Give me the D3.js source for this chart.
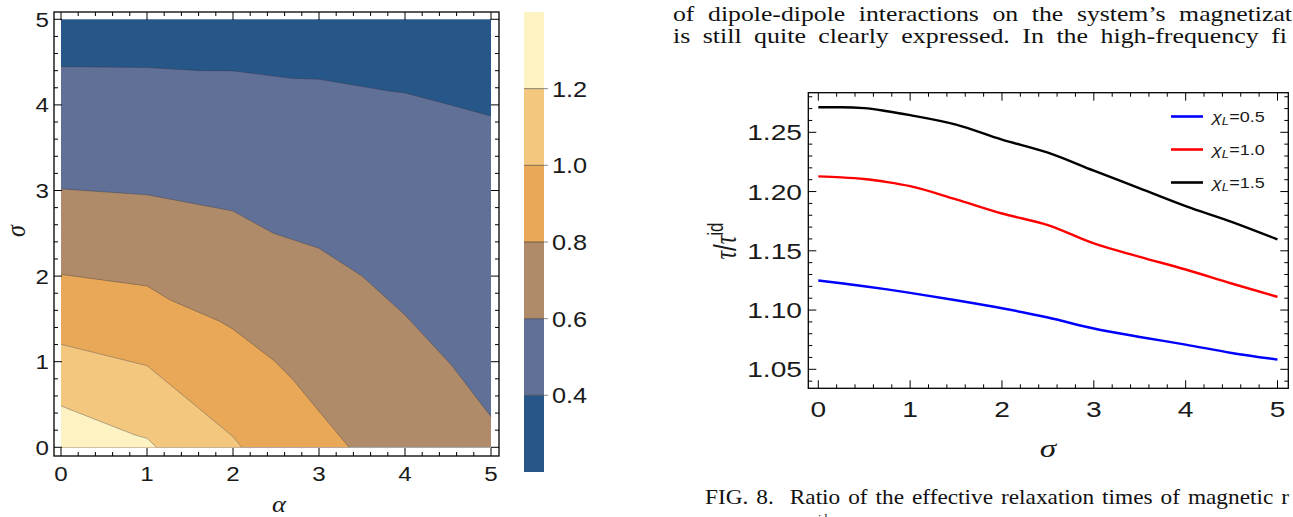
<!DOCTYPE html>
<html><head><meta charset="utf-8">
<script src="https://cdn.jsdelivr.net/npm/d3@7"></script>
<style>body{margin:0;background:#fff}svg{display:block}</style>
</head><body><svg id="c" width="1293" height="517"></svg>
<script>
// ---------- data ----------
const levels = [0.4, 0.6, 0.8, 1.0, 1.2];
const levelColors = ["#275689", "#617096", "#AF8B69", "#E9A857", "#F4C77F", "#FDF2C1"];
// contour boundaries [alpha, sigma] (left edge -> bottom/right edge)
const contour04 = [[0,4.447],[1,4.436],[1.62,4.40],[2,4.397],[2.68,4.31],[3,4.30],[3.83,4.16],[4,4.14],[4.56,3.99],[5,3.87]];
const contour06 = [[0,3.018],[1,2.95],[2,2.76],[2.47,2.50],[3,2.325],[3.5,2.0],[4,1.546],[4.54,0.96],[5,0.358]];
const contour08 = [[0,2.02],[1,1.885],[1.27,1.72],[1.85,1.47],[2,1.38],[2.48,1.01],[2.7,0.787],[3,0.42],[3.35,0]];
const contour10 = [[0,1.203],[1,0.954],[2,0.125],[2.1,0]];
const contour12 = [[0,0.483],[0.86,0.144],[1,0.105],[1.11,0]];
const contours = [contour04, contour06, contour08, contour10, contour12];
const alphaTicks = [0, 1, 2, 3, 4, 5];
const sigmaTicks = [0, 1, 2, 3, 4, 5];
const colorbarTicks = [0.4, 0.6, 0.8, 1.0, 1.2];

const sigmaVals = [0, 0.25, 0.5, 0.75, 1, 1.5, 2, 2.5, 3, 3.5, 4, 4.5, 5];
const tauChi05 = [1.1249, 1.1226, 1.1201, 1.1174, 1.1145, 1.1083, 1.1015, 1.0937, 1.0844, 1.0773, 1.0708, 1.0638, 1.0582];
const tauChi10 = [1.2128, 1.2120, 1.2106, 1.2080, 1.2046, 1.1934, 1.1815, 1.1717, 1.1562, 1.1449, 1.1342, 1.1224, 1.1111];
const tauChi15 = [1.2711, 1.2711, 1.2704, 1.2678, 1.2645, 1.2565, 1.2438, 1.2328, 1.2176, 1.2027, 1.1877, 1.1745, 1.1596];
const seriesLabels = ["0.5", "1.0", "1.5"];
const seriesColors = ["#0000ff", "#ff0000", "#000000"];
const rightYTicks = [1.05, 1.10, 1.15, 1.20, 1.25];
const rightXTicks = [0, 1, 2, 3, 4, 5];

const textLine1 = "of dipole-dipole interactions on the system’s magnetizat";
const textLine2 = "is still quite clearly expressed. In the high-frequency fi";
const captionText = "FIG. 8.  Ratio of the effective relaxation times of magnetic r";

// ---------- setup ----------
const svg = d3.select("#c");
svg.append("rect").attr("width", 1293).attr("height", 517).attr("fill", "#fff");
const SANS = "'Liberation Sans', Arial, sans-serif";
const SERIF = "'Liberation Serif', 'Times New Roman', serif";
const SXL = 1.15, SXR = 1.28; // horizontal stretch of lettering in the reference

function frameTicks(g, f, xs, ys, xMajor, xMinorStep, yMajor, yMinorStep, xDom, yDom) {
  g.append("rect").attr("x", f.x0).attr("y", f.y0).attr("width", f.x1 - f.x0).attr("height", f.y1 - f.y0)
    .attr("fill", "none").attr("stroke", "#000").attr("stroke-width", 1.3);
  const xMin = d3.range(xDom[0], xDom[1] + 1e-9, xMinorStep).filter(v => !xMajor.some(m => Math.abs(m - v) < 1e-6));
  const yMin = d3.range(yDom[0], yDom[1] + 1e-9, yMinorStep).filter(v => !yMajor.some(m => Math.abs(m - v) < 1e-6));
  const lines = [];
  xMajor.forEach(v => { lines.push([xs(v), f.y1, xs(v), f.y1 - 8]); lines.push([xs(v), f.y0, xs(v), f.y0 + 8]); });
  xMin.forEach(v => { lines.push([xs(v), f.y1, xs(v), f.y1 - 4]); lines.push([xs(v), f.y0, xs(v), f.y0 + 4]); });
  yMajor.forEach(v => { lines.push([f.x0, ys(v), f.x0 + 8, ys(v)]); lines.push([f.x1, ys(v), f.x1 - 8, ys(v)]); });
  yMin.forEach(v => { lines.push([f.x0, ys(v), f.x0 + 4, ys(v)]); lines.push([f.x1, ys(v), f.x1 - 4, ys(v)]); });
  g.selectAll(null).data(lines).join("line")
    .attr("x1", d => d[0]).attr("y1", d => d[1]).attr("x2", d => d[2]).attr("y2", d => d[3])
    .attr("stroke", "#000").attr("stroke-width", 1);
}
const tr = (x, y, sx) => `translate(${x},${y}) scale(${sx},1)`;

// ---------- left: contour plot ----------
const xA = d3.scaleLinear().domain([0, 5]).range([61, 491]);
const yS = d3.scaleLinear().domain([0, 5]).range([447.3, 19.3]);
const gL = svg.append("g");
gL.append("rect").attr("x", xA(0)).attr("y", yS(5)).attr("width", xA(5) - xA(0)).attr("height", yS(0) - yS(5))
  .attr("fill", levelColors[0]);
const pl = d3.line().x(d => xA(d[0])).y(d => yS(d[1]));
contours.forEach((c, i) => {
  const last = c[c.length - 1];
  const poly = c.slice();
  if (last[0] >= 5 && last[1] > 0) poly.push([5, 0]);
  poly.push([0, 0]);
  gL.append("path").attr("d", pl(poly) + "Z").attr("fill", levelColors[i + 1]);
});
contours.forEach((c, i) => {
  gL.append("path").attr("d", pl(c)).attr("fill", "none")
    .attr("stroke", i >= 3 ? "rgba(90,90,90,0.45)" : "rgba(50,50,60,0.35)").attr("stroke-width", 1);
});
frameTicks(gL, {x0: 54, x1: 499, y0: 12, y1: 456}, xA, yS, alphaTicks, 0.2, sigmaTicks, 0.2, [0, 5], [0, 5]);
gL.selectAll(null).data(alphaTicks).join("text")
  .attr("transform", d => tr(xA(d), 481, SXL)).attr("text-anchor", "middle")
  .attr("font-family", SANS).attr("font-size", 21).attr("fill", "#1a1a1a").text(d => d);
gL.selectAll(null).data(sigmaTicks).join("text")
  .attr("transform", d => tr(49, yS(d) + 7.5, SXL)).attr("text-anchor", "end")
  .attr("font-family", SANS).attr("font-size", 21).attr("fill", "#1a1a1a").text(d => d);
gL.append("text").attr("transform", tr(279, 512, SXL)).attr("text-anchor", "middle")
  .attr("font-family", SERIF).attr("font-style", "italic").attr("font-size", 23).attr("fill", "#1a1a1a").text("α");
gL.append("text").attr("transform", "translate(25,231) scale(1.15,1) rotate(-90)").attr("text-anchor", "middle")
  .attr("font-family", SERIF).attr("font-style", "italic").attr("font-size", 24).attr("fill", "#1a1a1a").text("σ");

// ---------- colorbar ----------
const cb = d3.scaleLinear().domain([0.2, 1.4]).range([472, 12]);
const cbEdges = [0.2].concat(levels, [1.4]);
const gC = svg.append("g");
gC.selectAll(null).data(levelColors).join("rect")
  .attr("x", 524).attr("width", 20)
  .attr("y", (d, i) => cb(cbEdges[i + 1])).attr("height", (d, i) => cb(cbEdges[i]) - cb(cbEdges[i + 1]))
  .attr("fill", d => d);
gC.selectAll(null).data(colorbarTicks).join("line")
  .attr("x1", 524).attr("x2", 548).attr("y1", d => cb(d)).attr("y2", d => cb(d))
  .attr("stroke", "rgba(40,40,40,0.55)").attr("stroke-width", 1);
gC.selectAll(null).data(colorbarTicks).join("text")
  .attr("transform", d => tr(552, cb(d) + 8, SXL)).attr("font-family", SANS).attr("font-size", 22)
  .attr("fill", "#1a1a1a").text(d => d3.format(".1f")(d));

// ---------- right: line chart ----------
const xR = d3.scaleLinear().domain([0, 5]).range([818.3, 1277.5]);
const yR = d3.scaleLinear().domain([1.05, 1.25]).range([369.3, 132.3]);
const gR = svg.append("g");
frameTicks(gR, {x0: 808.3, x1: 1288.3, y0: 92.7, y1: 388.3}, xR, yR, rightXTicks, 0.2, rightYTicks, 0.01, [0, 5], [1.04, 1.28]);
const series = [tauChi05, tauChi10, tauChi15];
const ln = d3.line().x((d, i) => xR(sigmaVals[i])).y(d => yR(d)).curve(d3.curveMonotoneX);
series.forEach((s, k) => {
  gR.append("path").attr("d", ln(s)).attr("fill", "none").attr("stroke", seriesColors[k]).attr("stroke-width", 2.4);
});
gR.selectAll(null).data(rightXTicks).join("text")
  .attr("transform", d => tr(xR(d), 417, SXR)).attr("text-anchor", "middle")
  .attr("font-family", SANS).attr("font-size", 22).attr("fill", "#1a1a1a").text(d => d);
gR.selectAll(null).data(rightYTicks).join("text")
  .attr("transform", d => tr(802, yR(d) + 8, SXR)).attr("text-anchor", "end")
  .attr("font-family", SANS).attr("font-size", 22).attr("fill", "#1a1a1a").text(d => d3.format(".2f")(d));
gR.append("text").attr("transform", tr(1048, 457, SXR)).attr("text-anchor", "middle")
  .attr("font-family", SERIF).attr("font-style", "italic").attr("font-size", 26).attr("fill", "#1a1a1a").text("σ");
const yl = gR.append("text").attr("transform", "translate(736,241) scale(1.28,1) rotate(-90)").attr("text-anchor", "middle")
  .attr("font-family", SANS).attr("font-size", 24).attr("fill", "#1a1a1a");
yl.append("tspan").attr("font-family", SERIF).attr("font-style", "italic").text("τ");
yl.append("tspan").text("/");
yl.append("tspan").attr("font-family", SERIF).attr("font-style", "italic").text("τ");
yl.append("tspan").attr("dy", -10).attr("font-size", 17).text("id");
// legend
const legY = d3.scaleBand().domain(seriesLabels).range([100, 199]);
seriesLabels.forEach((lab, k) => {
  const y = legY(lab) + legY.bandwidth() / 2;
  gR.append("line").attr("x1", 1171).attr("x2", 1203).attr("y1", y).attr("y2", y)
    .attr("stroke", seriesColors[k]).attr("stroke-width", 2.6);
  const t = gR.append("text").attr("transform", tr(1212, y + 5.5, 1.2)).attr("font-family", SANS).attr("font-size", 15).attr("fill", "#1a1a1a");
  t.append("tspan").attr("font-style", "italic").text("χ");
  t.append("tspan").attr("font-style", "italic").attr("font-size", 11).attr("dy", 3).text("L");
  t.append("tspan").attr("dy", -3).text("=" + lab);
});

// ---------- surrounding text ----------
function para(txt, x, y, size, len, ws) {
  svg.append("text").attr("x", x).attr("y", y).attr("font-family", SERIF).attr("font-size", size)
    .attr("fill", "#111").attr("textLength", len).attr("lengthAdjust", "spacingAndGlyphs")
    .attr("word-spacing", ws).style("white-space", "pre").text(txt);
}
para(textLine1, 673, 21, 21.5, 619, 6);
para(textLine2, 673, 43, 21.5, 614, 5);
para(captionText, 705, 504, 21.5, 584, 2);
svg.append("text").attr("x", 818).attr("y", 523).attr("font-family", SERIF).attr("font-size", 12).attr("fill", "#111").text("id");
</script></body></html>
